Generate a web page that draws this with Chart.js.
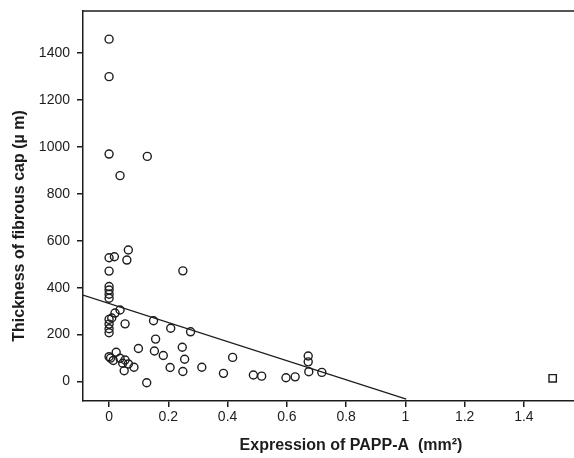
<!DOCTYPE html>
<html>
<head>
<meta charset="utf-8">
<script src="https://cdn.jsdelivr.net/npm/chart.js@4"></script>
<style>
    body { margin: 0; background: #fff; }
    #wrap { width: 574px; height: 458px; position: relative; }
</style>
</head>
<body>
<div id="wrap"><canvas id="papaChart"></canvas></div>
<script>
// PAPP-A expression (mm²) vs fibrous cap thickness (µm)
const papaExpr = [
    0, 0, 0, 0.129, 0.037, 0.065, 0, 0.018, 0.06, 0, 0.249,
    0, 0, 0, 0, 0.037, 0.02, 0.009, 0, 0, 0, 0,
    0.054, 0.15, 0.208, 0.275, 0.157, 0.099, 0.153, 0.183, 0.247, 0.255,
    0.206, 0.249, 0.127, 0, 0.024, 0.014, 0.037, 0.046, 0.054, 0.051,
    0.065, 0.084, 0.005, 0.313, 0.386, 0.417, 0.487, 0.515, 0.597, 0.628,
    0.672, 0.672, 0.674, 0.718, 1.497
];
const capThickness = [
    1460, 1300, 970, 960, 878, 561, 528, 532, 518, 471, 472,
    405, 390, 372, 355, 305, 292, 271, 265, 245, 225, 208,
    246, 259, 227, 212, 181, 141, 130, 111, 146, 95,
    60, 43, -5, 106, 125, 90, 99, 78, 92, 46,
    75, 61, 100, 61, 35, 103, 28, 23, 16, 20,
    109, 84, 42, 39, 14
];

// fitted line end points
const fitX = [-0.088, 1.003];
const fitY = [369, -75];

const xTicks = [0, 0.2, 0.4, 0.6, 0.8, 1, 1.2, 1.4];
const xTickLabels = ['0', '0.2', '0.4', '0.6', '0.8', '1', '1.2', '1.4'];
const yTicks = [0, 200, 400, 600, 800, 1000, 1200, 1400];
const yTickLabels = ['0', '200', '400', '600', '800', '1000', '1200', '1400'];

const xTitle = 'Expression of PAPP-A  (mm²)';
const yTitle = 'Thickness of fibrous cap (µ m)';

const ink = '#1c1c1c';
const fontFamily = '"Liberation Sans", Arial, sans-serif';

const points = papaExpr.map((x, i) => ({ x: x, y: capThickness[i] }));
const fitLine = fitX.map((x, i) => ({ x: x, y: fitY[i] }));
const styles = papaExpr.map(x => x > 1.2 ? 'rect' : 'circle');
const radii = papaExpr.map(x => x > 1.2 ? 5.2 : 4);

// top border + axis titles
const frameAndTitles = {
    id: 'frameAndTitles',
    afterDraw(chart) {
        const ctx = chart.ctx;
        const area = chart.chartArea;
        ctx.save();
        ctx.strokeStyle = ink;
        ctx.lineWidth = 1.5;
        ctx.beginPath();
        ctx.moveTo(area.left, area.top);
        ctx.lineTo(area.right, area.top);
        ctx.stroke();

        ctx.fillStyle = ink;
        ctx.font = 'bold 16px ' + fontFamily;
        ctx.textAlign = 'center';
        ctx.textBaseline = 'middle';
        ctx.fillText(xTitle, 351, 446);

        ctx.translate(20, 226);
        ctx.rotate(-Math.PI / 2);
        ctx.fillText(yTitle, 0, 0);
        ctx.restore();
    }
};

const ctx = document.getElementById('papaChart').getContext('2d');
new Chart(ctx, {
    type: 'scatter',
    data: {
        datasets: [{
            label: 'cases',
            data: points,
            pointStyle: styles,
            pointRadius: radii,
            pointBorderWidth: 1.4,
            pointBorderColor: ink,
            pointBackgroundColor: 'rgba(0,0,0,0)'
        }, {
            type: 'line',
            label: 'fit',
            data: fitLine,
            borderColor: ink,
            borderWidth: 1.2,
            pointRadius: 0,
            fill: false
        }]
    },
    options: {
        responsive: true,
        maintainAspectRatio: false,
        animation: false,
        layout: { autoPadding: false, padding: { top: 11, right: 0, left: 0, bottom: 0 } },
        plugins: {
            legend: { display: false },
            tooltip: { enabled: false }
        },
        scales: {
            x: {
                type: 'linear',
                min: -0.088,
                max: 1.569,
                afterFit(scale) {
                    scale.height = 57;
                    scale.paddingLeft = 0;
                    scale.paddingRight = 0;
                },
                afterBuildTicks(scale) { scale.ticks = xTicks.map(v => ({ value: v })); },
                grid: { drawOnChartArea: false, drawTicks: true, tickLength: 6, color: ink, lineWidth: 1.5 },
                border: { display: true, color: ink, width: 1.5 },
                ticks: {
                    padding: 2,
                    color: ink,
                    font: { family: fontFamily, size: 14 },
                    maxRotation: 0,
                    autoSkip: false,
                    callback: (v, i) => xTickLabels[i]
                }
            },
            y: {
                type: 'linear',
                min: -83,
                max: 1580,
                afterFit(scale) {
                    scale.width = 83;
                    scale.paddingTop = 0;
                    scale.paddingBottom = 0;
                },
                afterBuildTicks(scale) { scale.ticks = yTicks.map(v => ({ value: v })); },
                grid: { drawOnChartArea: false, drawTicks: true, tickLength: 6, color: ink, lineWidth: 1.5 },
                border: { display: true, color: ink, width: 1.5 },
                ticks: {
                    padding: 7,
                    color: ink,
                    font: { family: fontFamily, size: 14 },
                    autoSkip: false,
                    callback: (v, i) => yTickLabels[i]
                }
            }
        }
    },
    plugins: [frameAndTitles]
});
</script>
</body>
</html>
